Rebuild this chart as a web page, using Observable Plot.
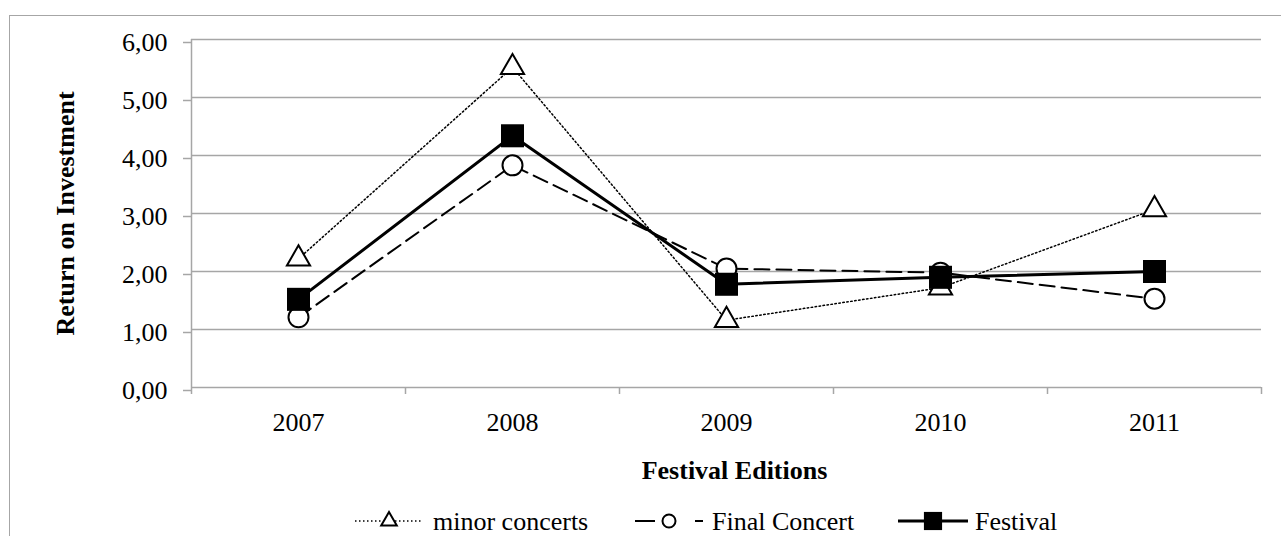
<!DOCTYPE html>
<html><head><meta charset="utf-8">
<script src="https://cdn.jsdelivr.net/npm/d3@7"></script>
<script src="https://cdn.jsdelivr.net/npm/@observablehq/plot@0.6"></script>
<style>
html,body{margin:0;padding:0;background:#fff;overflow:hidden;width:1281px;height:536px;}
#frame{position:absolute;left:9px;top:15px;width:1400px;height:700px;border:1.5px solid #a6a6a6;box-sizing:border-box;}
#chart{position:absolute;left:0;top:0;}
#legend{position:absolute;left:0;top:500px;}
#legend svg{display:block;overflow:visible;}
</style></head><body>
<div id="frame"></div><div id="chart"></div><div id="legend"></div>
<script>
const years = [2007, 2008, 2009, 2010, 2011];
const minorConcerts = [2.22, 5.52, 1.16, 1.72, 3.07];
const finalConcert = [1.21, 3.83, 2.05, 1.98, 1.53];
const festival = [1.52, 4.34, 1.78, 1.90, 2.00];
const yTicks = [0, 1, 2, 3, 4, 5, 6];
const seriesNames = ["minor concerts", "Final Concert", "Festival"];
const xLabel = "Festival Editions";
const yLabel = "Return on Investment";

const FONT = "'Liberation Serif', 'Times New Roman', serif";
const seriesValues = [minorConcerts, finalConcert, festival];
const styles = [
  {strokeWidth: 1.5, dash: "1.5,2.5", symbol: "triangle", r: 8.6, fill: "white"},
  {strokeWidth: 2, dash: "15,7", symbol: "circle", r: 10, fill: "white"},
  {strokeWidth: 3, dash: null, symbol: "square", r: 13, fill: "black"}
];
const data = seriesNames.map((name, i) => years.map((year, j) => ({series: name, year, value: seriesValues[i][j]})));
const boundaries = [years[0] - 0.5, ...years.map(y => y + 0.5)];
const comma = d => d3.format(".2f")(d).replace(".", ",");
const grid = "#a6a6a6";

const marks = [
  Plot.ruleY(yTicks, {stroke: grid, strokeWidth: 1.5}),
  Plot.ruleX([boundaries[0]], {stroke: grid, strokeWidth: 1.5}),
  Plot.axisY({ticks: yTicks, tickSize: 8, tickPadding: 16, tickFormat: comma, stroke: grid, strokeWidth: 1.5, fontSize: 26, dy: 3, label: null}),
  Plot.axisX({ticks: boundaries, tickSize: 7, tickFormat: () => "", stroke: grid, strokeWidth: 1.5, label: null}),
  Plot.axisX({ticks: years, tickSize: 0, tickPadding: 25, tickFormat: d => String(d), fontSize: 26, label: null}),
  Plot.text([yLabel], {frameAnchor: "left", rotate: -90, dx: -126, fontSize: 26, fontWeight: "bold", textAnchor: "middle", lineAnchor: "middle"}),
  Plot.text([xLabel], {frameAnchor: "bottom", dx: 8, dy: 83, fontSize: 26, fontWeight: "bold", textAnchor: "middle", lineAnchor: "middle"})
];
data.forEach((d, i) => {
  const s = styles[i];
  marks.push(Plot.line(d, {x: "year", y: "value", stroke: "black", strokeWidth: s.strokeWidth, strokeDasharray: s.dash}));
});
data.forEach((d, i) => {
  const s = styles[i];
  marks.push(Plot.dot(d, {x: "year", y: "value", symbol: () => s.symbol, r: s.r, fill: s.fill, stroke: "black", strokeWidth: s.symbol === "square" ? 0 : 2}));
});

const chart = Plot.plot({
  width: 1281,
  height: 500,
  marginLeft: 191,
  marginRight: 20,
  marginTop: 39,
  marginBottom: 113,
  style: {fontFamily: FONT, fontSize: "26px", background: "none", color: "black", overflow: "visible"},
  x: {type: "linear", domain: [boundaries[0], boundaries[boundaries.length - 1]]},
  y: {domain: [0, 6]},
  symbol: {type: "identity"},
  marks
});
document.getElementById("chart").append(chart);

// legend (below the plot SVG)
const lsvg = d3.select("#legend").append("svg").attr("width", 1281).attr("height", 36)
  .style("font-family", FONT).style("font-size", "26px");
const sampleStart = [355, 635, 898];
const sampleEnd = [423, 703, 968];
const textStart = [433, 712, 975];
const legendSym = [
  d3.symbol().type(d3.symbolTriangle).size(105),
  d3.symbol().type(d3.symbolCircle).size(Math.PI * 6.5 * 6.5),
  d3.symbol().type(d3.symbolSquare).size(330)
];
const lineY = 21;
seriesNames.forEach((name, i) => {
  const s = styles[i];
  const a = sampleStart[i], b = sampleEnd[i], c = (a + b) / 2;
  lsvg.append("line").attr("x1", a).attr("x2", b).attr("y1", lineY).attr("y2", lineY)
    .attr("stroke", "black").attr("stroke-width", s.strokeWidth)
    .attr("stroke-dasharray", i === 1 ? "20,40,8" : s.dash);
  lsvg.append("path").attr("d", legendSym[i]()).attr("transform", `translate(${c},${lineY})`)
    .attr("fill", s.fill).attr("stroke", s.symbol === "square" ? "none" : "black").attr("stroke-width", 2);
  lsvg.append("text").attr("x", textStart[i]).attr("y", 30).text(name);
});
</script>
</body></html>
